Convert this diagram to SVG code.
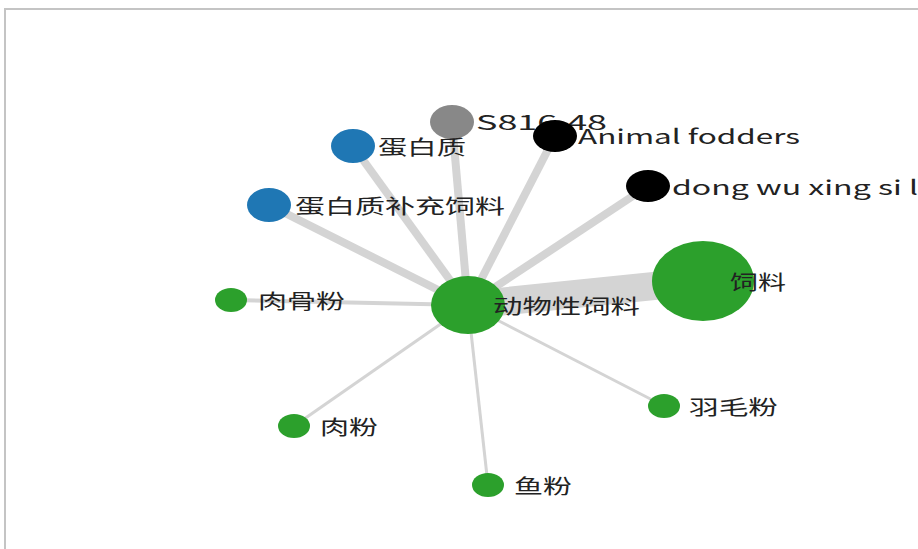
<svg xmlns="http://www.w3.org/2000/svg" width="918" height="549" viewBox="0 0 918 549">
<style>
.e{stroke:#d4d4d4;stroke-linecap:butt;fill:none}
.w{stroke-width:8}
.t{stroke-width:3}
.l{font-family:"Noto Sans CJK SC","Liberation Sans",sans-serif;font-size:20px;fill:#222;dominant-baseline:central}
.g{fill:#2ca02c}
.b{fill:#1f77b4}
.k{fill:#000}
</style>
<rect x="0" y="0" width="918" height="549" fill="#fff"/>
<path d="M5 549 V9 H918" fill="none" stroke="#c4c4c4" stroke-width="2"/>
<g id="connectors">
<line class="e" x1="468" y1="305" x2="703" y2="281" stroke-width="28"/>
<line class="e w" x1="468" y1="305" x2="452" y2="122"/>
<line class="e w" x1="468" y1="305" x2="555" y2="136"/>
<line class="e w" x1="468" y1="305" x2="648" y2="186"/>
<line class="e w" x1="468" y1="305" x2="353" y2="146"/>
<line class="e w" x1="468" y1="305" x2="269" y2="205"/>
<line class="e" x1="468" y1="305" x2="231" y2="300" stroke-width="4"/>
<line class="e t" x1="468" y1="305" x2="294" y2="426"/>
<line class="e t" x1="468" y1="305" x2="488" y2="485"/>
<line class="e t" x1="468" y1="305" x2="664" y2="406"/>
</g>
<g id="n-feed"><ellipse class="g" cx="703" cy="281" rx="51" ry="40"/><text class="l" x="730" y="281" textLength="56" lengthAdjust="spacingAndGlyphs">饲料</text></g>
<g id="n-s816"><ellipse cx="452" cy="122" rx="22" ry="17" fill="#888"/><text class="l" x="476" y="121" textLength="131" lengthAdjust="spacingAndGlyphs">S816.48</text></g>
<g id="n-animal"><ellipse class="k" cx="555" cy="136" rx="22" ry="16"/><text class="l" x="578" y="135" textLength="222" lengthAdjust="spacingAndGlyphs">Animal fodders</text></g>
<g id="n-dongwu"><ellipse class="k" cx="648" cy="186" rx="22" ry="16"/><text class="l" x="672" y="186" textLength="246" lengthAdjust="spacingAndGlyphs">dong wu xing si l</text></g>
<g id="n-protein"><ellipse class="b" cx="353" cy="146" rx="22" ry="17"/><text class="l" x="378" y="146" textLength="88" lengthAdjust="spacingAndGlyphs">蛋白质</text></g>
<g id="n-protein-supp"><ellipse class="b" cx="269" cy="205" rx="22" ry="17"/><text class="l" x="295" y="205" textLength="210" lengthAdjust="spacingAndGlyphs">蛋白质补充饲料</text></g>
<g id="n-meatbone"><ellipse class="g" cx="231" cy="300" rx="16" ry="12"/><text class="l" x="258" y="300" textLength="87" lengthAdjust="spacingAndGlyphs">肉骨粉</text></g>
<g id="n-meat"><ellipse class="g" cx="294" cy="426" rx="16" ry="12"/><text class="l" x="320" y="426" textLength="58" lengthAdjust="spacingAndGlyphs">肉粉</text></g>
<g id="n-fish"><ellipse class="g" cx="488" cy="485" rx="16" ry="12"/><text class="l" x="514" y="485" textLength="58" lengthAdjust="spacingAndGlyphs">鱼粉</text></g>
<g id="n-feather"><ellipse class="g" cx="664" cy="406" rx="16" ry="12"/><text class="l" x="689" y="406" textLength="89" lengthAdjust="spacingAndGlyphs">羽毛粉</text></g>
<g id="n-center"><ellipse class="g" cx="468" cy="305" rx="37" ry="29"/><text class="l" x="493" y="305" textLength="147" lengthAdjust="spacingAndGlyphs">动物性饲料</text></g>
</svg>
